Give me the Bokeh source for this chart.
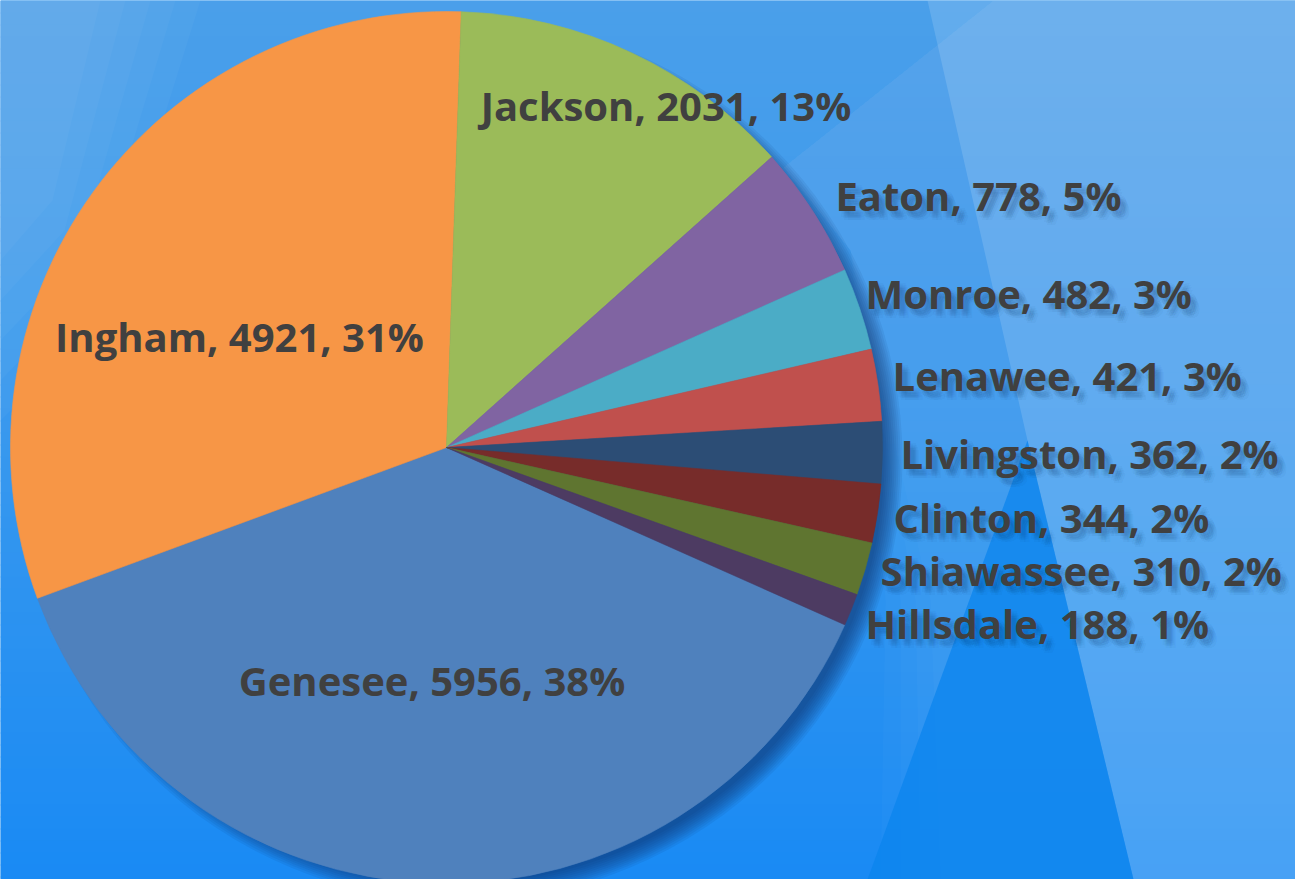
import numpy as np
import pandas as pd
from bokeh.plotting import figure
from bokeh.models import ColumnDataSource, Range1d
from bokeh.core.properties import value
from bokeh.embed import file_html
from bokeh.resources import INLINE

# ---------------- data ----------------
counties = ["Genesee", "Ingham", "Jackson", "Eaton", "Monroe", "Lenawee",
            "Livingston", "Clinton", "Shiawassee", "Hillsdale"]
counts = [5956, 4921, 2031, 778, 482, 421, 362, 344, 310, 188]
slice_colors = ["#4F81BD", "#F79646", "#9BBB59", "#8064A2", "#4BACC6",
                "#C0504D", "#2C4D75", "#772C2A", "#5F7530", "#4D3B62"]

# ---------------- layout ----------------
W, H = 1295, 879
CX, CY = 446, 447          # pie centre, pixels from top-left
R = 436                    # pie radius, pixels
FIRST_SLICE_DEG = 114      # clockwise from 12 o'clock
label_radius = [240, 240, 403, 452, 452, 452, 452, 452, 452, 452]
label_inside = [True, True, True, False, False, False, False, False, False, False]
label_nudge_x = [-6.6, -12.5, 48.6, 9.4, -9.6, -1.3, 2.0, 0.2, 0.0, -0.5]
label_nudge_y = [-6.9, 28.6, 22.0, -6.6, -11.3, -7.2, 0.6, 1.4, -3.0, 7.7]  # +down
FONT = "Open Sans"
FONT_PX = 40
BASE_SHIFT = 0.5           # cap-centre to text anchor, pixels
TEXT_COLOR = "#404040"

df = pd.DataFrame({"county": counties, "count": counts, "color": slice_colors})
total = df["count"].sum()
cum = df["count"].cumsum()
df["start_cw"] = FIRST_SLICE_DEG + 360.0 * (cum - df["count"]) / total
df["end_cw"] = FIRST_SLICE_DEG + 360.0 * cum / total
df["mid_cw"] = (df["start_cw"] + df["end_cw"]) / 2
df["start_angle"] = np.radians(90 - df["end_cw"])
df["end_angle"] = np.radians(90 - df["start_cw"])
df["pct"] = (df["count"] / total * 100).round().astype(int)
df["label"] = df["county"] + ", " + df["count"].astype(str) + ", " + df["pct"].astype(str) + "%"

mid = np.radians(df["mid_cw"])
lr = np.array(label_radius, dtype=float)
df["lx"] = lr * np.sin(mid) + np.array(label_nudge_x)
df["ly"] = lr * np.cos(mid) - np.array(label_nudge_y) - BASE_SHIFT
df["align"] = ["center" if i else "left" for i in label_inside]

p = figure(width=W, height=H, output_backend="svg", toolbar_location=None,
           x_range=Range1d(-CX, W - CX), y_range=Range1d(CY - H, CY),
           min_border=0, min_border_left=0, min_border_right=0,
           min_border_top=0, min_border_bottom=0)
p.axis.visible = False
p.grid.visible = False
p.outline_line_color = None
p.background_fill_color = "#3797ee"
p.border_fill_color = "#3797ee"

# ---------------- background (decorative) ----------------
def px(x, y):
    return x - CX, CY - y

def lerp(c1, c2, t):
    a = [int(c1[i:i + 2], 16) for i in (1, 3, 5)]
    b = [int(c2[i:i + 2], 16) for i in (1, 3, 5)]
    return "#%02x%02x%02x" % tuple(int(round(a[k] + (b[k] - a[k]) * t)) for k in range(3))

strip = 12
tops, bots, cols = [], [], []
for y0 in range(0, H, strip):
    t = (y0 + strip / 2) / H
    c = lerp("#4a9fea", "#3898ee", t / 0.5) if t < 0.5 else lerp("#3898ee", "#198af4", (t - 0.5) / 0.5)
    tops.append(CY - y0)
    bots.append(CY - y0 - strip - 1)
    cols.append(c)
p.quad(left=-CX, right=W - CX, top=tops, bottom=bots, fill_color=cols, line_color=None)

def poly(points, color, alpha):
    xs = [px(a, b)[0] for a, b in points]
    ys = [px(a, b)[1] for a, b in points]
    p.patch(xs, ys, fill_color=color, fill_alpha=alpha, line_color=None)

# soft glow top-left
for k in range(5):
    poly([(0, 0), (200 - 25 * k, 0), (100 - 12 * k, 320 - 30 * k), (0, 420 - 40 * k)], "#ffffff", 0.03)
# lighter region right of the diagonal, with a soft left edge
for k in range(4):
    poly([(783, 167), (993, 0), (1295, 0), (1295, 879), (880 + 20 * k, 879),
          (885 + 15 * k, 600), (850, 250)], "#ffffff", 0.02)
poly([(927, 0), (1295, 0), (1295, 879), (1133, 879), (1027, 440)], "#ffffff", 0.14)
poly([(1027, 440), (1133, 879), (867, 879)], "#0b84ee", 0.75)

# ---------------- pie shadow ----------------
sx, sy = px(CX + 14, CY + 12)
for k in range(10):
    p.circle(x=sx, y=sy, radius=R - 12 + 2.0 * k, fill_color="#0a2c58",
             fill_alpha=0.075, line_color=None)

# ---------------- pie ----------------
src = ColumnDataSource(df)
p.wedge(x=0, y=0, radius=R, start_angle="start_angle", end_angle="end_angle",
        direction="anticlock", fill_color="color", line_color="color",
        line_width=0.6, source=src)

# ---------------- label shadows (outside labels) ----------------
out = df[[not i for i in label_inside]]
for dx, dy in [(3, 3), (5, 5), (4, 7), (7, 4), (2, 6), (6, 2), (6, 7), (8, 6), (5, 9), (9, 9)]:
    p.text(x=out["lx"] + dx, y=out["ly"] - dy, text=out["label"],
           text_font=value(FONT), text_font_style="bold",
           text_font_size="%dpx" % FONT_PX, text_color="#0a2c58", text_alpha=0.05,
           text_align="left", text_baseline="alphabetic")

# ---------------- labels ----------------
p.text(x="lx", y="ly", text="label", source=src,
       text_font=value(FONT), text_font_style="bold",
       text_font_size="%dpx" % FONT_PX, text_color=TEXT_COLOR,
       text_align="align", text_baseline="alphabetic")

open("out.html", "w").write(file_html(p, INLINE))
